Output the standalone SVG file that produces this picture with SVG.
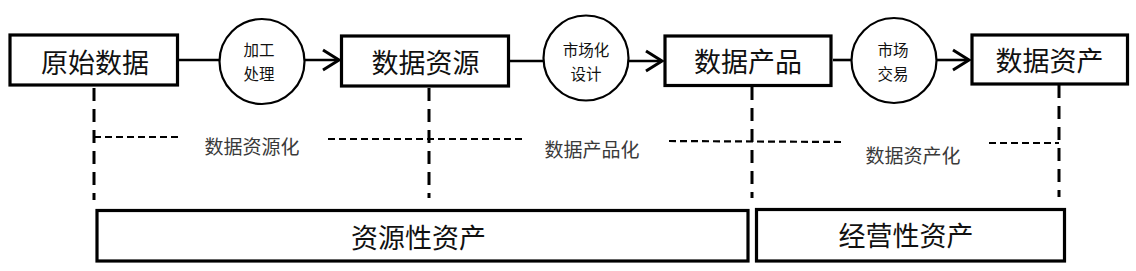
<svg xmlns="http://www.w3.org/2000/svg" width="1136" height="271" viewBox="0 0 1136 271">
<style>
.box{fill:#fff;stroke:#000;stroke-width:3.2}
.circ{fill:#fff;stroke:#000;stroke-width:2.2}
.big{font-family:"Noto Sans CJK SC",sans-serif;font-size:27px;fill:#111;text-anchor:middle;dominant-baseline:central}
.sm{font-family:"Noto Sans CJK SC",sans-serif;font-size:15.5px;fill:#111;text-anchor:middle;dominant-baseline:central}
.lbl{font-family:"Noto Sans CJK SC",sans-serif;font-size:19px;fill:#3a3a3a;text-anchor:middle;dominant-baseline:central}
.ln{stroke:#000;stroke-width:2.6;fill:none}
.vd{stroke:#000;stroke-width:3;stroke-dasharray:13 8;fill:none}
.hd{stroke:#000;stroke-width:2.2;stroke-dasharray:7 4;fill:none}
</style>
<defs>
<marker id="arr" markerUnits="userSpaceOnUse" markerWidth="20" markerHeight="24" refX="17" refY="11" orient="auto" overflow="visible">
<path d="M1,1 L17,11 L1,21" fill="none" stroke="#000" stroke-width="3"/>
</marker>
</defs>
<g id="connectors">
<line class="ln" x1="178" y1="60" x2="219" y2="60"/>
<line class="ln" x1="305" y1="60" x2="339" y2="60" marker-end="url(#arr)"/>
<line class="ln" x1="510" y1="61" x2="543" y2="61"/>
<line class="ln" x1="628" y1="61" x2="662" y2="61" marker-end="url(#arr)"/>
<line class="ln" x1="833" y1="60" x2="852" y2="60"/>
<line class="ln" x1="937" y1="60" x2="969" y2="60" marker-end="url(#arr)"/>
<line class="vd" x1="94" y1="88" x2="94" y2="200"/>
<line class="vd" x1="429" y1="88" x2="429" y2="198"/>
<line class="vd" x1="752" y1="87" x2="752" y2="198"/>
<line class="vd" x1="1059" y1="85" x2="1059" y2="197"/>
<line class="hd" x1="94" y1="137" x2="182" y2="137"/>
<line class="hd" x1="328" y1="139" x2="522" y2="139"/>
<line class="hd" x1="669" y1="141" x2="843" y2="142"/>
<line class="hd" x1="989" y1="143" x2="1059" y2="143"/>
</g>
<g id="n1"><rect class="box" x="10" y="35" width="167.5" height="50"/><text class="big" x="95" y="61">原始数据</text></g>
<g id="c1"><circle class="circ" cx="262" cy="61.5" r="42.5"/><text class="sm" x="259" y="49">加工</text><text class="sm" x="259" y="72.5">处理</text></g>
<g id="n2"><rect class="box" x="341.5" y="36" width="167" height="50"/><text class="big" x="425.5" y="61">数据资源</text></g>
<g id="c2"><circle class="circ" cx="586" cy="58" r="42.5"/><text class="sm" x="586" y="49">市场化</text><text class="sm" x="586" y="72.5">设计</text></g>
<g id="n3"><rect class="box" x="665" y="36" width="166" height="49.5"/><text class="big" x="748" y="60">数据产品</text></g>
<g id="c3"><circle class="circ" cx="894" cy="60.5" r="42.5"/><text class="sm" x="893" y="49">市场</text><text class="sm" x="893" y="72.5">交易</text></g>
<g id="n4"><rect class="box" x="972" y="35" width="155.5" height="49"/><text class="big" x="1049.5" y="59">数据资产</text></g>
<g id="l1"><text class="lbl" x="252" y="145">数据资源化</text></g>
<g id="l2"><text class="lbl" x="592" y="148">数据产品化</text></g>
<g id="l3"><text class="lbl" x="913" y="154">数据资产化</text></g>
<g id="b1"><rect class="box" x="97" y="210.5" width="651" height="50.5"/><text class="big" x="418.5" y="236">资源性资产</text></g>
<g id="b2"><rect class="box" x="756.5" y="209.5" width="308" height="51.5"/><text class="big" x="906" y="234">经营性资产</text></g>
</svg>
